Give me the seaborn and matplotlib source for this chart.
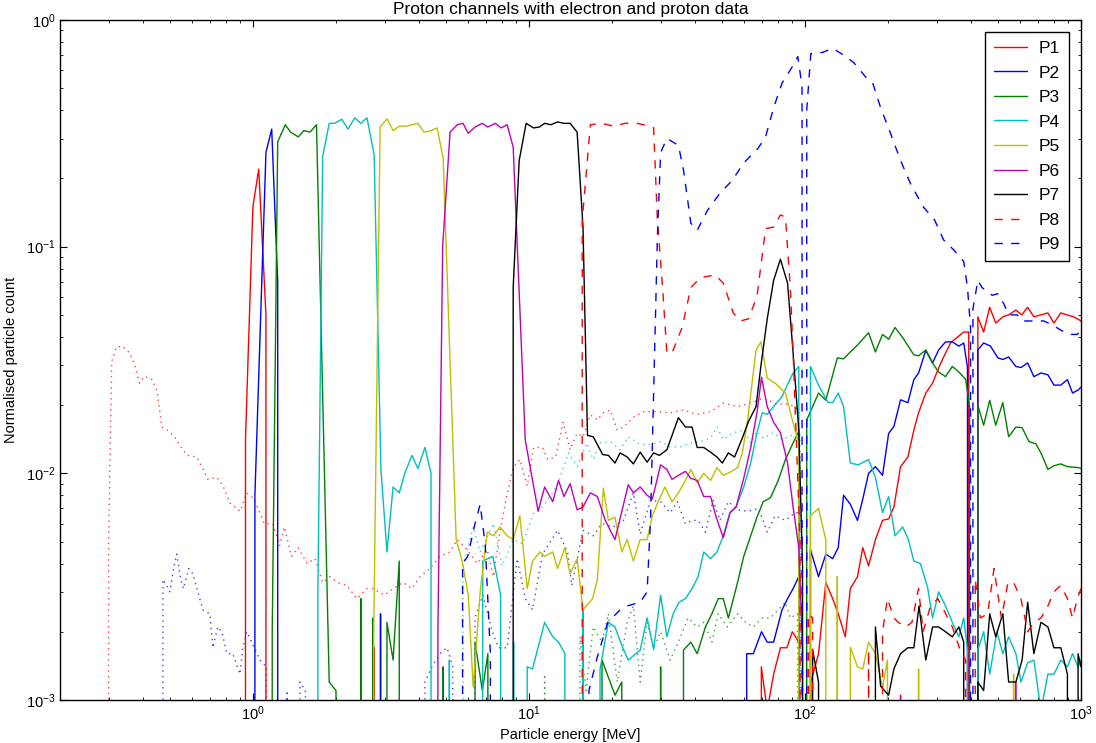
import matplotlib
matplotlib.use("Agg")
import matplotlib.pyplot as plt
import pandas as pd
import seaborn as sns

# ---------------- data: (energy [MeV], normalised count); 0 = no counts ----------------
P1 = [(0.93, 0), (0.94, 0.014), (1.0, 0.15), (1.05, 0.22), (1.115, 0.05), (1.16, 0),
      (2.72, 0), (2.75, 0.0017), (2.78, 0),
      (65, 0), (69.5, 0.0014), (73, 0.0009), (77, 0.0013), (81.5, 0.0017), (86, 0.0017),
      (90, 0.0020), (95, 0.0018), (100, 0),
      (105, 0.0012), (112, 0.0016), (119, 0.0033), (126, 0.0028), (132, 0.0024), (140, 0.0019),
      (146, 0.0031), (155, 0.0035), (162, 0.0047), (170, 0.0039), (180, 0.0051), (191, 0.0062),
      (201, 0.0063), (210, 0.0071), (222, 0.0107), (236, 0.0118), (248, 0.0155), (258, 0.0185),
      (274, 0.0226), (290, 0.025), (303, 0.0286), (318, 0.0326), (337, 0.0376), (358, 0.040),
      (376, 0.042), (392, 0.042), (400, 0),
      (423, 0.049), (444, 0.042), (467, 0.054), (491, 0.046), (521, 0.049), (547, 0.050),
      (581, 0.0525), (610, 0.050), (641, 0.054), (675, 0.049), (715, 0.050), (759, 0.051),
      (798, 0.046), (845, 0.051), (890, 0.050), (942, 0.049), (1000, 0.047)]

P2 = [(1.0, 0), (1.017, 0.008), (1.115, 0.26), (1.17, 0.33), (1.23, 0.07), (1.26, 0),
      (2.88, 0), (2.9, 0.0024), (2.93, 0),
      (57, 0), (61.5, 0.0016), (65, 0.0016), (69.6, 0.0020), (73, 0.0018), (77, 0.0018),
      (82.6, 0.0025), (86.5, 0.0028), (90.6, 0.0031), (95, 0.0035), (100, 0),
      (104.7, 0.0046), (112, 0.0035), (119, 0.0044), (126, 0.0042), (132, 0.0047), (138, 0.0080),
      (146, 0.0073), (155, 0.0062), (162, 0.0077), (170, 0.010), (180, 0.0107), (191, 0.0098),
      (201, 0.015), (210, 0.0161), (222, 0.0211), (236, 0.0205), (248, 0.0259), (258, 0.0277),
      (274, 0.0349), (290, 0.0307), (305, 0.035), (323, 0.038), (342, 0.038), (361, 0.0364),
      (376, 0.0376), (388, 0.0294), (400, 0),
      (423, 0.035), (444, 0.0376), (470, 0.0364), (500, 0.0323), (521, 0.0318), (547, 0.0326),
      (581, 0.0296), (606, 0.0293), (641, 0.0307), (675, 0.0267), (716, 0.0277), (759, 0.0272),
      (798, 0.0245), (845, 0.0245), (893, 0.0259), (932, 0.0226), (976, 0.0233), (1000, 0.024)]

P3 = [(1.165, 0), (1.175, 0.002), (1.23, 0.29), (1.31, 0.345), (1.37, 0.32), (1.46, 0.305),
      (1.53, 0.325), (1.61, 0.32), (1.70, 0.345), (1.89, 0.0012), (2.0, 0.0011), (2.05, 0),
      (2.44, 0), (2.46, 0.0028), (2.48, 0),
      (2.70, 0), (2.72, 0.0023), (2.84, 0), (3.0, 0), (3.06, 0.0022), (3.22, 0.0015),
      (3.39, 0.0041), (3.62, 0),
      (4.8, 0), (4.89, 0.0014), (5.0, 0), (6.2, 0), (6.38, 0.0018), (6.78, 0.0011), (7.1, 0.0016), (7.3, 0),
      (17.6, 0), (18.4, 0.0015), (20.5, 0.00105), (21.7, 0.0012), (22.5, 0),
      (29, 0), (30, 0.0014), (31.5, 0), (35, 0), (36.3, 0.00166), (38.6, 0.0018), (40.7, 0.0016),
      (43.6, 0.0021), (46, 0.0024), (48.5, 0.0028), (50.6, 0.0028), (52.8, 0.0023), (57, 0.0033),
      (60, 0.0043), (63.6, 0.0053), (67, 0.0064), (70.6, 0.0075), (75, 0.0078), (80, 0.0093),
      (85, 0.0115), (90, 0.0134), (95, 0.0153), (100, 0),
      (101.5, 0.0172), (112, 0.0226), (119, 0.021), (131, 0.0323), (138, 0.032), (146, 0.0343),
      (155, 0.0368), (170, 0.0417), (180, 0.0343), (191, 0.041), (201, 0.039), (212, 0.044),
      (226, 0.0397), (248, 0.0333), (258, 0.033), (274, 0.035), (290, 0.0306), (305, 0.028),
      (323, 0.0267), (342, 0.0296), (361, 0.028), (382, 0.026), (395, 0.0197), (400, 0),
      (423, 0.020), (444, 0.0163), (467, 0.021), (491, 0.0163), (521, 0.0205), (547, 0.0145),
      (581, 0.016), (612, 0.0159), (648, 0.0138), (686, 0.0135), (716, 0.0123), (759, 0.0104),
      (798, 0.0108), (845, 0.011), (893, 0.0107), (976, 0.0106), (1000, 0.0105)]

P4 = [(1.70, 0), (1.72, 0.003), (1.79, 0.25), (1.89, 0.35), (1.98, 0.35), (2.1, 0.365),
      (2.21, 0.33), (2.34, 0.37), (2.46, 0.35), (2.59, 0.37), (2.75, 0.254), (2.91, 0.0104),
      (3.06, 0.0045), (3.22, 0.0087), (3.39, 0.0082), (3.56, 0.0101), (3.77, 0.012), (3.96, 0.0105),
      (4.2, 0.013), (4.42, 0.010), (4.65, 0),
      (5.0, 0), (5.15, 0.0015), (5.3, 0), (6.6, 0), (6.8, 0.0041), (7.4, 0.0043), (7.9, 0.0029),
      (8.2, 0), (8.6, 0), (8.8, 0.0018), (9.1, 0), (9.6, 0), (9.86, 0.0014), (10.3, 0.00137),
      (11.4, 0.0022), (12.2, 0.0019), (12.8, 0.0018), (13.5, 0.0016), (14.1, 0), (15.2, 0),
      (15.7, 0.0025), (16.4, 0), (17.6, 0), (18.1, 0.00137), (19.4, 0.0022), (20.5, 0.0021),
      (21.7, 0.00174), (22.9, 0.0015), (25.3, 0.00166), (26.8, 0.0023), (28.3, 0.00167),
      (30, 0.0029), (31.6, 0.0019), (33.3, 0.0024), (35, 0.0027), (36.9, 0.0028), (39, 0.0031),
      (41, 0.0035), (43, 0.0045), (45.5, 0.0042), (48, 0.0045), (50.6, 0.0053), (53.5, 0.0067),
      (56.3, 0.0071), (60, 0.0087), (63.6, 0.0111), (67, 0.0151), (70, 0.0185), (73, 0.0182),
      (77, 0.0197), (82.6, 0.0218), (87, 0.025), (90.6, 0.0277), (95, 0.0296), (100, 0),
      (104.7, 0.0296), (112, 0.0245), (121, 0.0206), (126, 0.0205), (132, 0.0226), (138, 0.0197),
      (146, 0.0111), (156, 0.0109), (170, 0.0115), (180, 0.0096), (191, 0.0067), (201, 0.0079),
      (212, 0.0053), (226, 0.0058), (237, 0.0051), (248, 0.0041), (262, 0.004), (278, 0.00315),
      (290, 0.0023), (305, 0.003), (323, 0.0026), (342, 0.0022), (361, 0.0019), (376, 0.0023),
      (388, 0.00166), (400, 0),
      (423, 0.00166), (444, 0.002), (467, 0.0013), (496, 0.002), (521, 0.0016), (547, 0.0019),
      (581, 0.0016), (606, 0.0012), (641, 0.00146), (675, 0.0015), (716, 0.0009), (759, 0.0013),
      (798, 0.0013), (845, 0.0015), (893, 0.0014), (932, 0.0016), (976, 0.0014), (1000, 0.0015)]

P5 = [(2.72, 0), (2.74, 0.002), (2.89, 0.337), (3.06, 0.366), (3.22, 0.325), (3.39, 0.34),
      (3.6, 0.34), (3.96, 0.35), (4.17, 0.32), (4.42, 0.325), (4.65, 0.334), (4.89, 0.246),
      (5.45, 0.0051), (5.73, 0.0041), (6.03, 0.0029), (6.28, 0.00114), (6.66, 0.003),
      (7.06, 0.0055), (7.44, 0.0053), (7.86, 0.0058), (8.34, 0.0053), (8.77, 0.0051),
      (9.27, 0.0065), (9.86, 0.0031), (10.3, 0.0041), (10.96, 0.0045), (11.4, 0.0043),
      (12.2, 0.0045), (12.7, 0.0038), (13.5, 0.0047), (14.1, 0.0036), (14.95, 0.0042),
      (15.7, 0.0025), (17, 0.0028), (17.7, 0.0034), (18.6, 0.0086), (19.4, 0.0062),
      (20.5, 0.0064), (21.7, 0.0045), (22.7, 0.0051), (23.9, 0.0041), (25.3, 0.0051),
      (26.8, 0.0051), (28, 0.0065), (29.4, 0.0075), (31.1, 0.0087), (33, 0.0075), (34.8, 0.0082),
      (36.9, 0.0093), (38.6, 0.0104), (40.7, 0.0091), (43, 0.010), (45.5, 0.0093), (48, 0.0106),
      (50.6, 0.0098), (53.5, 0.0101), (57, 0.0106), (59.3, 0.0123), (62, 0.0172), (66.5, 0.035),
      (69.3, 0.038), (73, 0.0263), (78, 0.025), (85, 0.0226), (90, 0.0172), (95, 0.0136), (100, 0),
      (104.7, 0.0065), (112, 0.007), (119, 0.0051), (122, 0), (129, 0), (131, 0.0035), (134, 0),
      (144, 0), (146, 0.00171), (155, 0.0014), (162, 0.00137), (170, 0.0018), (180, 0.0016),
      (191, 0.00114), (199, 0.0015), (206, 0), (255, 0), (258, 0.00137), (262, 0),
      (560, 0), (570, 0.0013), (590, 0)]

P6 = [(4.6, 0), (4.68, 0.002), (4.87, 0.1), (5.18, 0.32), (5.5, 0.345), (5.77, 0.35),
      (6.03, 0.316), (6.38, 0.337), (6.78, 0.35), (7.1, 0.337), (7.55, 0.35), (7.93, 0.334),
      (8.34, 0.345), (8.77, 0.275), (9.7, 0.014), (10.8, 0.0068), (11.4, 0.0087), (12.2, 0.0075),
      (12.8, 0.0093), (13.4, 0.0079), (14.1, 0.009), (14.95, 0.0069), (15.7, 0.0071),
      (16.7, 0.0082), (17.7, 0.0079), (18.9, 0.0062), (20.5, 0.0051), (22.9, 0.0089),
      (23.9, 0.0082), (25.3, 0.0087), (26.8, 0.008), (28, 0.0077), (30, 0.0109), (31.6, 0.0104),
      (33, 0.0094), (34.8, 0.0098), (36.9, 0.0102), (38.6, 0.0095), (40.7, 0.0093), (43, 0.0079),
      (45.5, 0.0079), (47.7, 0.0064), (50.6, 0.0052), (53.5, 0.0067), (56.3, 0.0071),
      (60, 0.0095), (63.6, 0.013), (67, 0.0185), (69.6, 0.0265), (73, 0.0197), (77, 0.0168),
      (81.5, 0.0151), (86.5, 0.0111), (90.6, 0.0071), (95, 0.0047), (98, 0.0017), (100, 0),
      (215, 0), (222, 0.00105), (230, 0), (570, 0), (580, 0.0012), (595, 0)]

P7 = [(8.35, 0), (8.77, 0.066), (9.22, 0.24), (9.77, 0.35), (10.4, 0.334), (10.9, 0.337),
      (11.4, 0.35), (12.0, 0.345), (12.7, 0.355), (13.4, 0.35), (14.1, 0.35), (14.95, 0.32),
      (15.7, 0.122), (16.3, 0.0147), (17.1, 0.0145), (18.5, 0.0121), (19.4, 0.012),
      (20.5, 0.0111), (21.4, 0.0123), (22.7, 0.0118), (23.9, 0.011), (25.3, 0.0124),
      (26.8, 0.0112), (28.3, 0.0123), (29.7, 0.012), (31.6, 0.0127), (33, 0.0147), (34.8, 0.0176),
      (36.9, 0.016), (39, 0.016), (40.7, 0.013), (43, 0.013), (45.5, 0.0124), (48, 0.0118),
      (50.2, 0.0111), (52.8, 0.0123), (55.6, 0.0118), (59.3, 0.0143), (62.4, 0.0169),
      (66.5, 0.0197), (69.3, 0.030), (73, 0.048), (77, 0.071), (81.5, 0.088), (86.5, 0.069),
      (90.6, 0.034), (95, 0.0155), (98, 0.0039), (100, 0),
      (106.6, 0.00166), (112, 0.0012), (115, 0), (176, 0), (180, 0.0021), (188, 0.00115),
      (201, 0.00105), (210, 0.00137), (222, 0.0016), (236, 0.0017), (248, 0.0017), (259, 0.0026),
      (274, 0.0015), (290, 0.0021), (305, 0.0021), (323, 0.002), (342, 0.0019), (361, 0.0021),
      (376, 0.0018), (400, 0),
      (423, 0.0012), (444, 0.0011), (467, 0.0024), (491, 0.0019), (521, 0.0024), (547, 0.0012),
      (581, 0.0012), (612, 0.0015), (641, 0.0027), (675, 0.0016), (716, 0.0022), (759, 0.0021),
      (798, 0.0017), (845, 0.0017), (893, 0.0013), (932, 0), (976, 0.0016), (1000, 0.0014)]

P8 = [(15.0, 0), (15.6, 0.131), (16.7, 0.345), (18.4, 0.35), (20.2, 0.34), (22.3, 0.35),
      (24.6, 0.35), (27.6, 0.34), (28.3, 0.334), (29.2, 0.131), (30.5, 0.066), (31.6, 0.034),
      (33, 0.034), (35.9, 0.044), (38.6, 0.066), (41.8, 0.073), (47.3, 0.075), (50.6, 0.069),
      (55, 0.051), (58.3, 0.047), (62.4, 0.048), (67, 0.06), (72, 0.12), (77, 0.122),
      (81.5, 0.138), (85, 0.135), (88.5, 0.066), (90.6, 0.034), (96, 0.005), (100, 0),
      (103, 0.0024), (106.6, 0.0023), (111, 0), (159, 0), (170, 0.00166), (178, 0), (188, 0),
      (191, 0.002), (199, 0.0028), (210, 0.0023), (218, 0.0022), (232, 0.0021), (244, 0.0022),
      (258, 0.0031), (268, 0.002), (285, 0.0026), (303, 0.0028), (318, 0.0025), (342, 0.0021),
      (365, 0.00166), (382, 0.0015), (400, 0),
      (414, 0.0034), (432, 0.0023), (459, 0.0024), (484, 0.0038), (515, 0.0023), (544, 0.0033),
      (570, 0.0033), (606, 0.0028), (641, 0.002), (675, 0.0022), (716, 0.0023), (759, 0.0026),
      (798, 0.003), (845, 0.0032), (893, 0.0028), (932, 0.0023), (970, 0.0028), (1000, 0.0031)]

P9 = [(5.6, 0), (5.75, 0.004), (6.0, 0.0043), (6.38, 0.006), (6.66, 0.0073), (6.95, 0.0048),
      (7.25, 0.0016), (7.4, 0),
      (16.3, 0), (16.5, 0.0011), (17.7, 0.00155), (19.3, 0.0022), (21.4, 0.0025), (22.7, 0.0026),
      (25.3, 0.0027), (26.8, 0.003), (27.6, 0.0064), (29.2, 0.11), (30, 0.26), (31.6, 0.30),
      (34.8, 0.28), (36.3, 0.218), (38.6, 0.127), (40.7, 0.118), (44.4, 0.145), (49.2, 0.172),
      (54.5, 0.196), (60, 0.234), (67.7, 0.272), (72, 0.305), (77, 0.41), (82.6, 0.527),
      (90.6, 0.63), (94.2, 0.69), (97.6, 0.51), (100, 0),
      (101.5, 0.40), (105, 0.71), (116, 0.72), (126, 0.75), (138, 0.70), (150, 0.65),
      (166, 0.56), (176, 0.527), (188, 0.41), (204, 0.317), (222, 0.24), (241, 0.19),
      (268, 0.15), (295, 0.131), (318, 0.107), (346, 0.0967), (376, 0.086), (388, 0.066),
      (398, 0.044), (400, 0),
      (406, 0.053), (423, 0.071), (438, 0.066), (477, 0.061), (500, 0.062), (525, 0.056),
      (547, 0.050), (588, 0.050), (612, 0.047), (654, 0.047), (697, 0.047), (734, 0.047),
      (791, 0.045), (868, 0.042), (921, 0.041), (970, 0.041), (1000, 0.043)]

# electron response (dotted)
E_P1 = [(0.296, 0), (0.300, 0.005), (0.308, 0.031), (0.32, 0.036), (0.337, 0.0364), (0.358, 0.034),
        (0.373, 0.030), (0.389, 0.025), (0.405, 0.0268), (0.43, 0.026), (0.45, 0.023), (0.468, 0.016),
        (0.49, 0.0155), (0.52, 0.0145), (0.55, 0.013), (0.58, 0.012), (0.626, 0.0118), (0.653, 0.0107),
        (0.687, 0.0094), (0.74, 0.0096), (0.78, 0.0088), (0.825, 0.0074), (0.90, 0.0068), (0.95, 0.0082),
        (1.0, 0.0078), (1.06, 0.0067), (1.10, 0.0060), (1.18, 0.0060), (1.25, 0.0048), (1.30, 0.0058),
        (1.38, 0.0043), (1.46, 0.0047), (1.57, 0.0040), (1.68, 0.0042), (1.79, 0.0033), (1.90, 0.0035),
        (2.03, 0.0033), (2.19, 0.0032), (2.38, 0.0028), (2.59, 0.0031), (2.72, 0.0031), (3.0, 0.0029),
        (3.22, 0.0031), (3.5, 0.0033), (3.77, 0.0031), (4.03, 0.0035), (4.38, 0.0038), (4.76, 0.0043),
        (5.18, 0.0045), (5.5, 0.0051), (5.98, 0.0046), (6.5, 0.0040), (7.06, 0.0046), (7.44, 0.0035),
        (7.86, 0.0056), (8.34, 0.0081), (8.77, 0.0106), (9.27, 0.0115), (9.86, 0.0088), (10.4, 0.013),
        (11.2, 0.013), (11.7, 0.0115), (12.5, 0.0118), (13.3, 0.0168), (14.1, 0.0127), (14.95, 0.015),
        (15.7, 0.0145), (16.7, 0.0181), (17.7, 0.0172), (18.6, 0.0185), (19.7, 0.019), (20.9, 0.0155),
        (22.0, 0.016), (23.9, 0.0177), (26, 0.0187), (29, 0.0187), (32.5, 0.0185), (36.3, 0.019),
        (40.7, 0.0182), (45.5, 0.0187), (50.6, 0.0204), (57, 0.0197), (63.6, 0.0204), (70.6, 0.0215),
        (79, 0.0202), (88.5, 0.0202), (95, 0.019), (100, 0)]

E_P2 = [(0.465, 0), (0.472, 0.0034), (0.487, 0.0032), (0.50, 0.0030), (0.52, 0.0040), (0.53, 0.0044),
        (0.548, 0.0034), (0.56, 0.0031), (0.586, 0.0038), (0.606, 0.0036), (0.632, 0.0030),
        (0.659, 0.0025), (0.698, 0.0024), (0.716, 0.0017), (0.746, 0.0021), (0.772, 0.0020),
        (0.805, 0.0016), (0.846, 0.0016), (0.897, 0.0013), (0.92, 0.0017), (0.95, 0.0020),
        (0.99, 0.0018), (1.06, 0.0015), (1.12, 0.0014), (1.2, 0), (1.28, 0), (1.33, 0.0011),
        (1.40, 0), (1.44, 0), (1.48, 0.0012), (1.55, 0.0011), (1.62, 0),
        (4.0, 0), (4.2, 0.0012), (4.45, 0.0014), (4.76, 0.0016), (5.05, 0.0017), (5.3, 0.0014),
        (5.6, 0), (6.1, 0), (6.38, 0.0023), (6.8, 0.0029), (7.37, 0.0020), (7.76, 0.0017),
        (8.34, 0.0017), (9.07, 0.0042), (9.7, 0.0028), (10.3, 0.0025), (11.2, 0.0044), (12.7, 0.0056),
        (13.8, 0.0045), (14.3, 0.0032), (15.7, 0.0056), (17.1, 0.0053), (18.4, 0.0060), (20.2, 0.0058),
        (22.0, 0.0062), (23.9, 0.0082), (25.3, 0.0054), (27.6, 0.0076), (30, 0.0075), (32.5, 0.0067),
        (34.5, 0.0075), (36.9, 0.0060), (39, 0.0062), (41, 0.0062), (43.6, 0.0055), (46.5, 0.0076),
        (49.2, 0.0062), (52.8, 0.0075), (57, 0.0069), (62, 0.0068), (68, 0.0070), (73, 0.0055),
        (78, 0.0065), (85, 0.0062), (92, 0.0067), (96, 0.0067), (100, 0)]

E_P3 = [(11.2, 0), (11.4, 0.0013), (11.6, 0), (15.0, 0), (15.3, 0.0019), (16.1, 0.0011),
        (17.1, 0.0021), (18.4, 0.0018), (19.4, 0.0024), (20.9, 0.0012), (22.7, 0.0022),
        (23.9, 0.0026), (25.3, 0.0012), (26.8, 0.0022), (28.3, 0.0017), (30, 0.0020),
        (32.5, 0.0015), (34.8, 0.0018), (37.7, 0.0023), (40.7, 0.0021), (43, 0.0022), (46, 0.0018),
        (48.5, 0.0024), (52.3, 0.0021), (57, 0.0024), (61, 0.0022), (65, 0.0021), (70, 0.0023),
        (75, 0.0023), (80, 0.0025), (85, 0.0027), (88.5, 0.0023), (94, 0.0024), (100, 0)]

E_P4 = [(5.4, 0), (5.77, 0.0039), (6.28, 0.0058), (6.66, 0.0045), (7.44, 0.0060), (8.0, 0.0039),
        (8.77, 0.0051), (9.5, 0.0049), (10.4, 0.0067), (11.2, 0.0071), (12.2, 0.0082), (13.0, 0.0096),
        (13.9, 0.0123), (14.95, 0.0107), (16.2, 0.0136), (17.1, 0.0115), (18.1, 0.0136), (19.7, 0.0138),
        (21.4, 0.0127), (22.9, 0.0145), (25.3, 0.0134), (27.6, 0.0134), (30, 0.0138), (32.5, 0.0131),
        (35.4, 0.0131), (38.6, 0.0136), (41.8, 0.0138), (45.5, 0.0143), (48, 0.0160), (50.6, 0.0141),
        (55, 0.0151), (60, 0.0155), (63.6, 0.0136), (67, 0.0153), (70.6, 0.0143), (77, 0.0151),
        (83, 0.0141), (90.6, 0.0148), (96, 0.0151), (100, 0)]

CHANNELS = ["P1", "P2", "P3", "P4", "P5", "P6", "P7", "P8", "P9"]
X_TICKS = [1, 10, 100, 1000]
Y_TICKS = [0.001, 0.01, 0.1, 1]

# classic matplotlib single-letter colours
RED = (1.0, 0.0, 0.0)
BLUE = (0.0, 0.0, 1.0)
GREEN = (0.0, 0.5, 0.0)
CYAN = (0.0, 0.75, 0.75)
YELLOW = (0.75, 0.75, 0.0)
MAGENTA = (0.75, 0.0, 0.75)
BLACK = (0.0, 0.0, 0.0)

# ---------------- styling ----------------
sns.set_theme(style="ticks", color_codes=False)
plt.rcParams.update({
    "font.family": ["Liberation Sans", "DejaVu Sans"],
    "mathtext.default": "regular",
    "font.size": 10.5,
    "axes.edgecolor": "black",
    "axes.linewidth": 1.0,
    "text.color": "black", "axes.labelcolor": "black",
    "xtick.color": "black", "ytick.color": "black",
    "xtick.direction": "in", "ytick.direction": "in",
    "xtick.top": True, "ytick.right": True,
    "xtick.major.size": 5, "ytick.major.size": 5,
    "xtick.minor.size": 2.5, "ytick.minor.size": 2.5,
    "xtick.major.width": 0.8, "ytick.major.width": 0.8,
    "xtick.minor.width": 0.6, "ytick.minor.width": 0.6,
    "xtick.labelsize": 10.5, "ytick.labelsize": 10.5,
    "xtick.major.pad": 3.5, "ytick.major.pad": 3,
})

fig = plt.figure(figsize=(10.96, 7.43), dpi=100)
ax = fig.add_axes([0.0547, 0.0579, 0.9316, 0.9152])

def draw(data, color, ls, label=None, alpha=1.0):
    df = pd.DataFrame(data, columns=["energy", "count"])
    sns.lineplot(data=df, x="energy", y="count", color=color, lw=1.0, alpha=alpha,
                 estimator=None, sort=False, ax=ax, legend=False)
    line = ax.lines[-1]
    line.set_linestyle(ls)
    if label:
        line.set_label(label)
    return line

dotted = (0, (1, 3))
dashed = (0, (6, 6))

draw(E_P1, RED, dotted, alpha=0.75)
draw(E_P2, BLUE, dotted, alpha=0.75)
draw(E_P3, GREEN, dotted, alpha=0.75)
draw(E_P4, CYAN, dotted, alpha=0.75)

proton = [P1, P2, P3, P4, P5, P6, P7, P8, P9]
colors = [RED, BLUE, GREEN, CYAN, YELLOW, MAGENTA, BLACK, RED, BLUE]
styles = ["-"] * 7 + [dashed, dashed]
handles = []
for name, data, c, s in zip(CHANNELS, proton, colors, styles):
    handles.append(draw(data, c, s, label=name))

ax.set_xscale("log")
ax.set_yscale("log")
ax.set_xlim(0.2, 1000)
ax.set_ylim(1e-3, 1)
ax.set_xticks(X_TICKS)
ax.set_yticks(Y_TICKS)

ax.set_xlabel("Particle energy [MeV]", fontsize=10.5, labelpad=3)
ax.set_ylabel("Normalised particle count", fontsize=10.5, labelpad=6)
ax.set_title("Proton channels with electron and proton data", fontsize=12.5, pad=4)

leg = ax.legend(handles=handles, labels=CHANNELS, loc="upper right", fontsize=12.5,
                frameon=True, fancybox=False, framealpha=1, edgecolor="black",
                handlelength=1.9, handletextpad=0.7, labelspacing=0.54, borderpad=0.5,
                borderaxespad=0.7)
leg.get_frame().set_linewidth(1.0)

fig.savefig("out.png", dpi=100)
